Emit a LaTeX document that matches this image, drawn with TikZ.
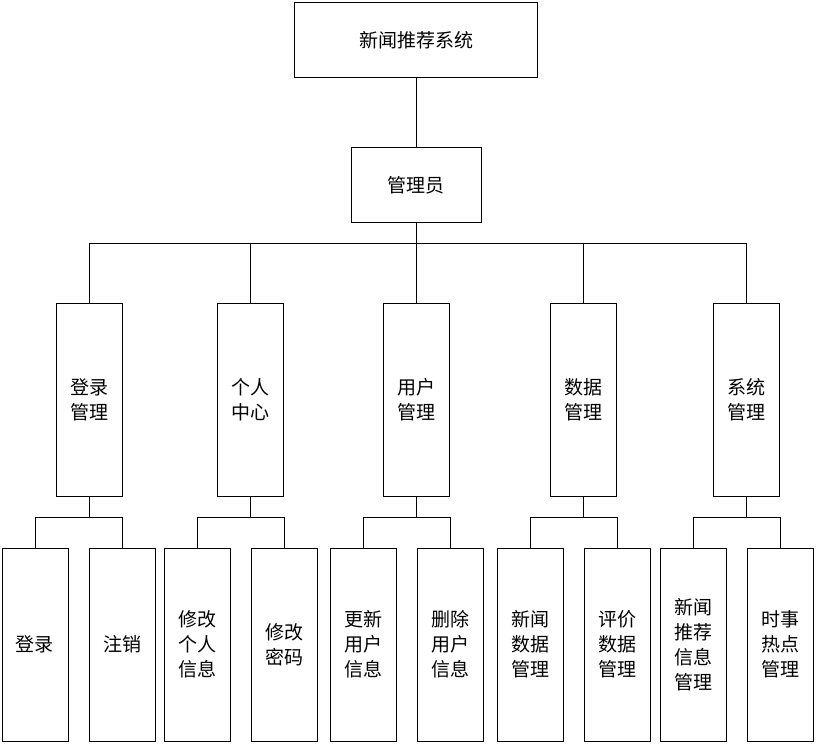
\documentclass[tikz,border=0pt]{standalone}
\usepackage{fontspec}
\newfontfamily\cjk{Noto Sans CJK SC}
\usetikzlibrary{positioning}
\tikzset{
    box/.style = {draw, thick, fill=white, align=center, font=\cjk\fontsize{19}{25}\selectfont, inner sep=0pt},
    top/.style = {box, minimum width=243pt, minimum height=75pt},
    mid/.style = {box, minimum width=66pt, minimum height=193pt},
    leaf/.style = {box, minimum width=66pt, minimum height=193pt},
    link/.style = {thick}
}
\begin{document}
\begin{tikzpicture}[x=1pt, y=-1pt]
    \useasboundingbox (0,0) rectangle (818,746);
    \node[top] (S) at (416,40) {新闻推荐系统};
    \node[box, minimum width=130pt, minimum height=75pt] (A) at (416,185) {管理员};
    \draw[link] (S) -- (A);
    \coordinate (bus) at (416,243);
    \draw[link] (A) -- (bus);
    \draw[link] (89,243) -- (746,243);
    \foreach \n/\x/\t in {1/89/登录\\管理, 2/250/个人\\中心, 3/416/用户\\管理, 4/583/数据\\管理, 5/746/系统\\管理}{
        \node[mid] (M\n) at (\x,400) {\t};
        \coordinate (T\n) at (\x,243);
        \draw[link] (T\n) -- (M\n);
        \coordinate (B\n) at (\x,517);
        \draw[link] (M\n) -- (B\n);
    }
    \foreach \n/\x/\p/\t in {1/35/1/登录, 2/122/1/注销, 3/197/2/修改\\个人\\信息, 4/284/2/修改\\密码,
                             5/363/3/更新\\用户\\信息, 6/450/3/删除\\用户\\信息, 7/530/4/新闻\\数据\\管理,
                             8/617/4/评价\\数据\\管理, 9/693/5/新闻\\推荐\\信息\\管理, 10/780/5/时事\\热点\\管理}{
        \node[leaf] (L\n) at (\x,644.5) {\t};
        \coordinate (U\n) at (\x,517);
        \draw[link] (B\p) -- (U\n) -- (L\n);
    }
\end{tikzpicture}
\end{document}
